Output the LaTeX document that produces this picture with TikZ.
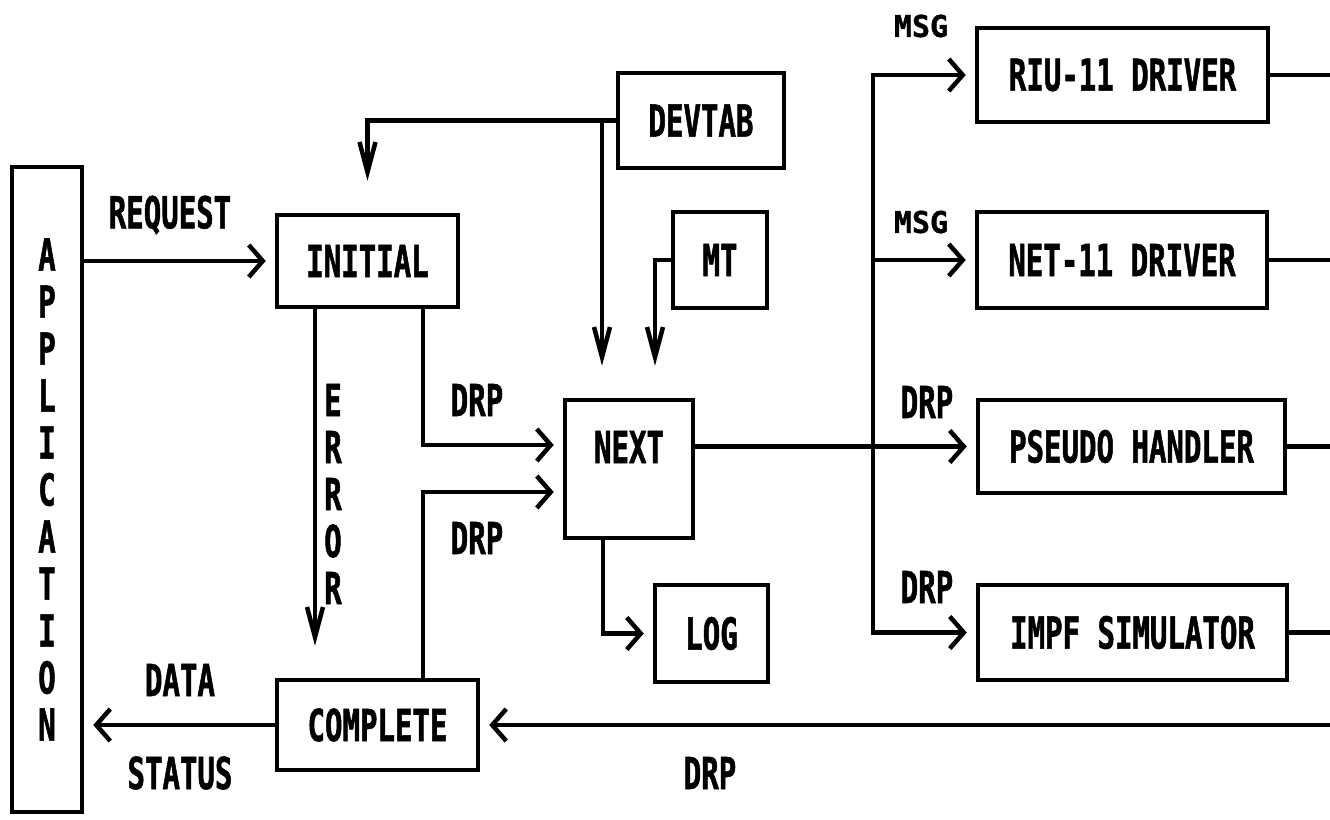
\documentclass[tikz,border=0pt]{standalone}
\usepackage{fontspec}
\newfontfamily\dotfont{DejaVu Sans Mono}[FakeStretch=0.66, FakeBold=1.2]
\newfontfamily\dotwide{DejaVu Sans Mono}[FakeBold=1.2]
\usepackage{tikz}
\usetikzlibrary{arrows.meta,positioning,calc}
\tikzset{
  blk/.style={draw, line width=4.5pt, inner sep=0pt, font=\dotfont\bfseries\fontsize{44}{47}\selectfont},
  txt/.style={inner sep=0pt, font=\dotfont\bfseries\fontsize{44}{47}\selectfont},
  small/.style={inner sep=0pt, font=\dotwide\bfseries\fontsize{30}{32}\selectfont},
  ln/.style={line width=4.5pt},
  arr/.style={ln, -{Straight Barb[length=14pt,width=32pt]}, shorten >=9pt},
  varr/.style={ln, -{Straight Barb[length=30pt,width=16pt]}, shorten >=32pt},
}

\begin{document}
\begin{tikzpicture}[x=1pt, y=-1pt]
  \useasboundingbox (0,0) rectangle (1330,819);
  % boxes
  \node[blk, minimum width=70pt, minimum height=645pt, align=center] (app) at (47,489.5)
    {A\\P\\P\\L\\I\\C\\A\\T\\I\\O\\N};
  \node[blk, minimum width=181pt, minimum height=92pt] (ini) at (367.5,261) {INITIAL};
  \node[blk, minimum width=201pt, minimum height=90pt] (cmp) at (377.5,725) {COMPLETE};
  \node[blk, minimum width=166pt, minimum height=95pt] (devtab) at (701,120.5) {DEVTAB};
  \node[blk, minimum width=94pt, minimum height=96pt] (mt) at (720,260) {MT};
  \node[blk, minimum width=128pt, minimum height=138pt] (nxt) at (629,469) {};
  \node[txt] (nxtl) at ($(nxt.center)+(0,-22)$) {NEXT};
  \node[blk, minimum width=113pt, minimum height=97pt] (log) at (711.5,633.5) {LOG};
  \node[blk, minimum width=291pt, minimum height=94pt] (riu) at (1122.5,75) {RIU-11 DRIVER};
  \node[blk, minimum width=290pt, minimum height=96pt] (net) at (1122,260) {NET-11 DRIVER};
  \node[blk, minimum width=307pt, minimum height=93pt] (psd) at (1131.5,446.5) {PSEUDO HANDLER};
  \node[blk, minimum width=309pt, minimum height=95pt] (imp) at (1132.5,632.5) {IMPF SIMULATOR};

  % labels
  \node[txt] (req) at (170,215) {REQUEST};
  \node[txt, align=center] (errl) at (333,494) {E\\R\\R\\O\\R};
  \node[txt] (drp1) at (477,400) {DRP};
  \node[txt] (drp2) at (477,538) {DRP};
  \node[txt] (data) at (180,680) {DATA};
  \node[txt] (stat) at (180,773) {STATUS};
  \node[txt] (drp3) at (710,773) {DRP};
  \node[small] (msg1) at (921,26) {MSG};
  \node[small] (msg2) at (921,222) {MSG};
  \node[txt] (drp4) at (927,402) {DRP};
  \node[txt] (drp5) at (927,587) {DRP};

  \coordinate (dvtap) at (602,120.5);
  \coordinate (bus) at (873,447);
  \coordinate (rim) at (1336,0);

  % connectors
  \draw[arr] (app.east |- ini.west) -- (ini.west);
  \draw[varr] (devtab.west) -| (ini.north);
  \draw[varr] (dvtap) -- (dvtap |- nxt.north);
  \draw[varr] (mt.west) -| ($(nxt.north)+(26,0)$);
  \draw[varr] ($(ini.south)+(-52.5,0)$) -- ($(cmp.north)+(-62.5,0)$);
  \draw[arr] ($(ini.south)+(55.5,0)$) |- ($(nxt.west)+(0,-24)$);
  \draw[arr] ($(cmp.north)+(45.5,0)$) |- ($(nxt.west)+(0,23)$);
  \draw[arr] ($(nxt.south)+(-26,0)$) |- (log.west);
  \draw[arr] (nxt.east |- psd.west) -- (psd.west);
  \draw[arr] (bus) |- (riu.west);
  \draw[arr] (bus) |- (net.west);
  \draw[arr] (bus) |- (imp.west);
  \draw[arr] (cmp.west) -- (app.east |- cmp.west);
  \draw[arr] (rim |- cmp.east) -- (cmp.east);
  \foreach \b in {riu,net,psd,imp}
    \draw[ln] (\b.east) -- (rim |- \b.east);
\end{tikzpicture}
\end{document}
